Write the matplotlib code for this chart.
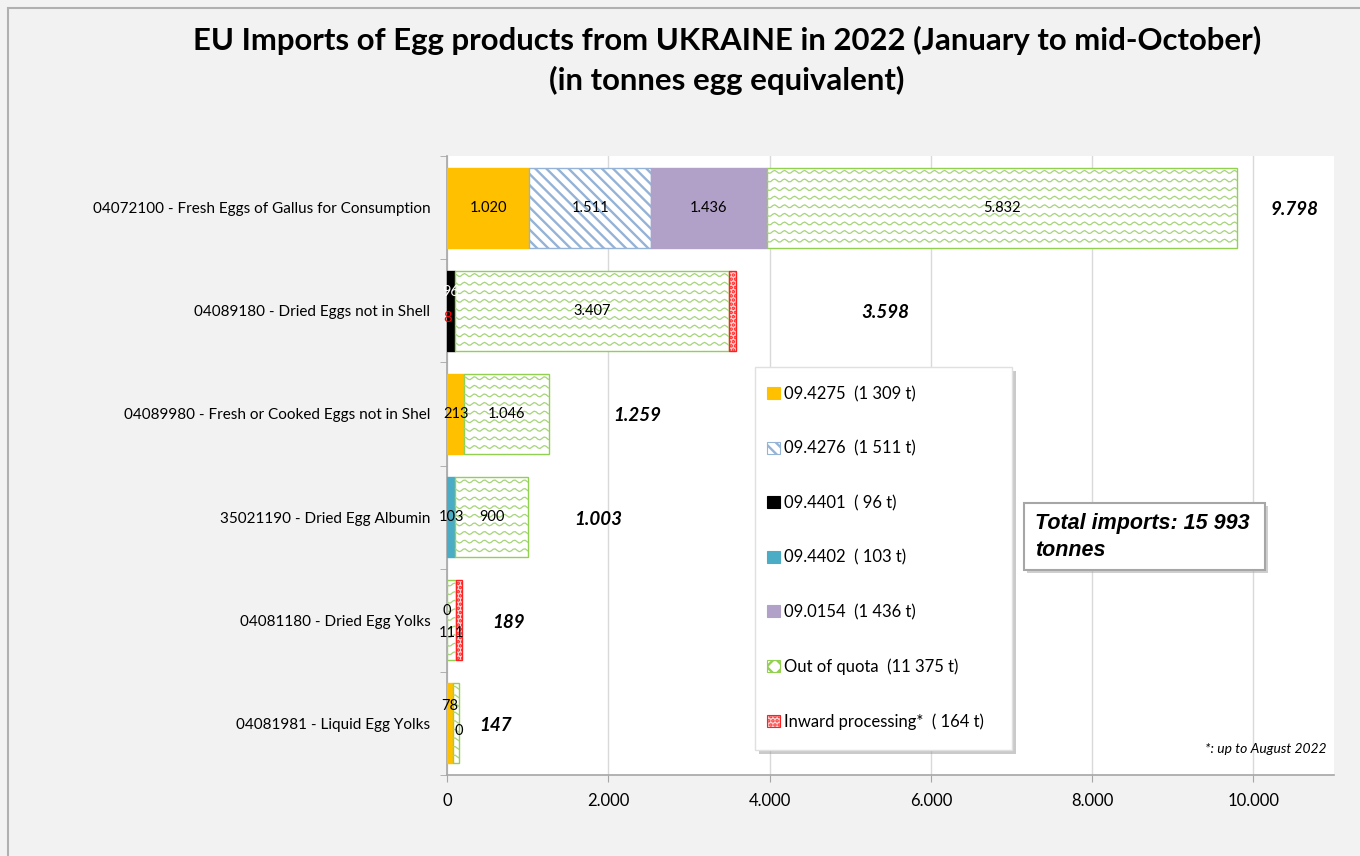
import numpy as np
import matplotlib
matplotlib.use("Agg")
import matplotlib.pyplot as plt
from matplotlib.patches import Patch, Rectangle

plt.rcParams['font.family'] = ['Lato', 'DejaVu Sans']
plt.rcParams['hatch.linewidth'] = 1.7

# ---------------- data ----------------
categories = [
    "04072100 - Fresh Eggs of Gallus for Consumption",
    "04089180 - Dried Eggs not in Shell",
    "04089980 - Fresh or Cooked Eggs not in Shel",
    "35021190 - Dried Egg Albumin",
    "04081180 - Dried Egg Yolks",
    "04081981 - Liquid Egg Yolks",
]
series_names = ["09.4275", "09.4276", "09.4401", "09.4402", "09.0154",
                "Out of quota", "Inward processing*"]
legend_labels = ["09.4275  (1 309 t)", "09.4276  (1 511 t)", "09.4401  ( 96 t)",
                 "09.4402  ( 103 t)", "09.0154  (1 436 t)",
                 "Out of quota  (11 375 t)", "Inward processing*  ( 164 t)"]
q_4275 = [1020, 0, 213, 0, 0, 78]
q_4276 = [1511, 0, 0, 0, 0, 0]
q_4401 = [0, 96, 0, 0, 0, 0]
q_4402 = [0, 0, 0, 103, 0, 0]
q_0154 = [1436, 0, 0, 0, 0, 0]
out_of_quota = [5832, 3407, 1046, 900, 111, 69]
inward = [0, 86, 0, 0, 78, 0]
totals = [9798, 3598, 1259, 1003, 189, 147]
xticks = [0, 2000, 4000, 6000, 8000, 10000]

series = [q_4275, q_4276, q_4401, q_4402, q_0154, out_of_quota, inward]

# ---------------- style ----------------
BG = '#f2f2f2'
styles = [
    dict(facecolor='#ffc000', edgecolor='#ffc000', hatch=None),
    dict(facecolor='white', edgecolor='#95b3d7', hatch='\\\\\\'),
    dict(facecolor='black', edgecolor='black', hatch=None),
    dict(facecolor='#4bacc6', edgecolor='#4bacc6', hatch=None),
    dict(facecolor='#b1a0c7', edgecolor='#b1a0c7', hatch=None),
    dict(facecolor='white', edgecolor='#92d050', hatch=None),
    dict(facecolor='#ffd6d6', edgecolor='#ff2020', hatch='....'),
]
# which labels to show: (row, series) -> (dy, x override or None, color)
label_spec = {
    (0, 0): (0, None, 'black'), (0, 1): (0, None, 'black'),
    (0, 4): (0, None, 'black'), (0, 5): (0, None, 'black'),
    (1, 2): (-0.18, None, 'white'), (1, 5): (0, None, 'black'),
    (2, 0): (0, None, 'black'), (2, 5): (0, None, 'black'),
    (3, 3): (0, None, 'black'), (3, 5): (0, None, 'black'),
    (4, 0): (-0.09, None, 'black'), (4, 5): (0.12, None, 'black'),
    (5, 0): (-0.17, 40, 'black'), (5, 6): (0.07, None, 'black'),
}
total_x = [10510, 5430, 2360, 1876, 758, 596]

fig = plt.figure(figsize=(13.6, 8.56), dpi=100, facecolor=BG)
ax = fig.add_axes([447/1360, 1-775/856, (1334-447)/1360, (775-156)/856])
ax.set_facecolor('white')

ypos = np.arange(len(categories))
h = 0.775
left = np.zeros(len(categories))
bars_by_series = []
for si, vals in enumerate(series):
    st = styles[si]
    bc = ax.barh(ypos, vals, left=left, height=h, facecolor=st['facecolor'],
                 edgecolor=st['edgecolor'], hatch=st['hatch'], linewidth=1.0, zorder=3)
    for p, v in zip(bc.patches, vals):
        if v == 0:
            p.set_visible(False)
    bars_by_series.append((bc, left.copy()))
    left = left + np.array(vals)

# wavy pattern on "Out of quota"
bc, lf = bars_by_series[5]
px_x = 11000 / (1334 - 447)
px_y = 6 / (775 - 156)
for i, rect in enumerate(bc.patches):
    x0 = lf[i]
    x1 = x0 + out_of_quota[i]
    if out_of_quota[i] <= 0:
        continue
    xs = np.arange(x0 - 200, x1 + 200, 2 * px_x)
    step = 8.6 * px_y
    for yy in np.arange(ypos[i] - h/2 + step*0.5, ypos[i] + h/2, step):
        line, = ax.plot(xs, yy + 1.5*px_y*np.sin(2*np.pi*xs/(10*px_x)),
                        color='#a6d47a', lw=0.9, zorder=3.5)
        line.set_clip_path(rect)

# segment labels
for (ri, si), (dy, xo, col) in label_spec.items():
    start = bars_by_series[si][1][ri]
    v = series[si][ri]
    xc = start + v / 2 if xo is None else xo
    ax.text(xc, ypos[ri] + dy, f"{v:,}".replace(',', '.'), ha='center', va='center',
            fontsize=10.5, color=col, zorder=6)
# clipped red label on the Dried Eggs row
ax.text(0, ypos[1] + 0.07, "8", ha='center', va='center', fontsize=10.5,
        color='#ff0000', zorder=6, clip_on=False)

# totals
for i, t in enumerate(totals):
    ax.text(total_x[i], ypos[i] + 0.02, f"{t:,}".replace(',', '.'), ha='center', va='center',
            fontsize=13.5, fontweight='bold', fontstyle='italic', zorder=6)

ax.set_xlim(0, 11000)
ax.set_ylim(len(categories) - 0.5, -0.5)
ax.set_xticks(xticks)
ax.set_xticklabels([f"{x:,}".replace(',', '.') for x in xticks], fontsize=12)
ax.set_yticks(ypos)
ax.set_yticklabels(categories, fontsize=11)
ax.set_yticks(np.arange(-0.5, len(categories)), minor=True)
ax.tick_params(axis='y', which='major', length=0, pad=12)
ax.tick_params(axis='y', which='minor', length=5, color='#a6a6a6')
ax.tick_params(axis='x', which='major', length=5, color='#a6a6a6', pad=8)
ax.grid(axis='x', color='#d9d9d9', lw=1, zorder=0)
for s in ['top', 'right']:
    ax.spines[s].set_visible(False)
for s in ['left', 'bottom']:
    ax.spines[s].set_color('#a6a6a6')
    ax.spines[s].set_linewidth(1.2)
ax.set_axisbelow(True)

# legend frame (drawn separately) + legend
fig.add_artist(Rectangle((759/1360, 1-754/856), (1012-755)/1360, (750-367)/856,
                         transform=fig.transFigure, facecolor='#a0a0a0', edgecolor='none',
                         alpha=0.55, zorder=9))
fig.add_artist(Rectangle((755/1360, 1-750/856), (1012-755)/1360, (750-367)/856,
                         transform=fig.transFigure, facecolor='white', edgecolor='#e0e0e0',
                         lw=1, zorder=9.5))
handles = []
for si, st in enumerate(styles):
    if si == 5:
        handles.append(Patch(facecolor='white', edgecolor='#92d050', hatch='xx', lw=0.8))
    else:
        handles.append(Patch(facecolor=st['facecolor'], edgecolor=st['edgecolor'],
                             hatch=st['hatch'], lw=0.8))
leg = fig.legend(handles, legend_labels, loc='upper left',
                 bbox_to_anchor=(767/1360, 1-386/856), fontsize=12,
                 handlelength=0.75, handleheight=0.75, handletextpad=0.3,
                 labelspacing=2.3, borderpad=0, frameon=False, borderaxespad=0)
leg.set_zorder(10)

# footnote
ax.text(0.992, 0.042, "*: up to August 2022", transform=ax.transAxes, ha='right',
        va='center', fontsize=10, fontstyle='italic', zorder=6)

# total imports box
fig.add_artist(Rectangle((1027/1360, 1-573/856), (1265-1024)/1360, (570-503)/856,
                         transform=fig.transFigure, facecolor='#b0b0b0', edgecolor='none',
                         alpha=0.6, zorder=8))
fig.add_artist(Rectangle((1024/1360, 1-570/856), (1265-1024)/1360, (570-503)/856,
                         transform=fig.transFigure, facecolor='white', edgecolor='#a6a6a6',
                         lw=1.5, zorder=9))
fig.text(1035/1360, 1-537/856, "Total imports: 15 993\ntonnes", ha='left', va='center',
         fontsize=15.5, fontweight='bold', fontstyle='italic',
         family=['Liberation Sans', 'DejaVu Sans'], linespacing=1.35, zorder=11)

# title
fig.text(727/1360, 1-40/856, "EU Imports of Egg products from UKRAINE in 2022 (January to mid-October)",
         ha='center', va='center', fontsize=22.4, fontweight='bold')
fig.text(727/1360, 1-80/856, "(in tonnes egg equivalent)", ha='center', va='center',
         fontsize=22.4, fontweight='bold')

# outer border
fig.add_artist(Rectangle((8/1360, -0.1), 1.2, 1.1 - 8/856, transform=fig.transFigure,
                         fill=False, edgecolor='#b0b0b0', lw=1.5))

fig.savefig("out.png", dpi=100, facecolor=BG)
